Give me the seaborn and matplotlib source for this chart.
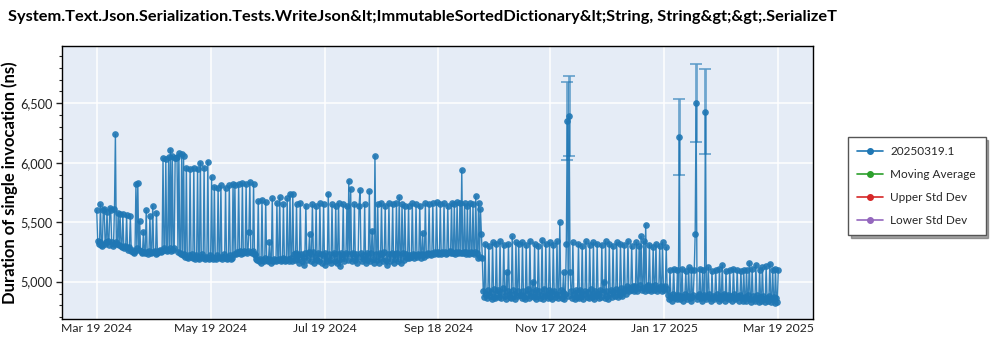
import matplotlib
matplotlib.use("Agg")
import matplotlib.pyplot as plt
import matplotlib.dates as mdates
from matplotlib.lines import Line2D
from matplotlib.ticker import FuncFormatter, MultipleLocator
import pandas as pd
import seaborn as sns

TITLE = ("System.Text.Json.Serialization.Tests.WriteJson&lt;ImmutableSortedDictionary"
         "&lt;String, String&gt;&gt;.SerializeT")
Y_LABEL = "Duration of single invocation (ns)"
SERIES_NAME = "20250319.1"
EXTRA_SERIES = ["Moving Average", "Upper Std Dev", "Lower Std Dev"]

START_DATE = "2024-03-19"
RUN_INTERVAL = "12h"   # two benchmark runs per day

# Durations (ns), one list per month, two runs per day
mar24 = [5600, 5340, 5320, 5330, 5650, 5310, 5300, 5600, 5610, 5320,
         5330, 5590, 5340, 5310, 5620, 5600, 5330, 5300, 5320, 5610,
         6240, 5330, 5320, 5580, 5310, 5570]
apr24 = [5300, 5290, 5570, 5280, 5300, 5290, 5560, 5280, 5270, 5290,
         5550, 5260, 5270, 5250, 5240, 5260, 5820, 5280, 5830, 5270,
         5510, 5260, 5250, 5240, 5420, 5250, 5240, 5600, 5250, 5230,
         5260, 5550, 5240, 5250, 5640, 5250, 5260, 5230, 5580, 5240,
         5250, 5260, 5270, 5250, 5260, 6040, 5280, 5270, 6030, 5260,
         5270, 6050, 5280, 6110, 5260, 6060, 5270, 5280, 6040, 6040]
may24 = [6050, 5250, 6080, 5240, 5230, 6070, 5220, 6060, 5230, 5210,
         5960, 5210, 5200, 5220, 5950, 5210, 5230, 5200, 5960, 5190,
         5220, 5210, 5950, 5200, 5190, 6000, 5210, 5230, 5200, 5960,
         5190, 5210, 5200, 6010, 5190, 5220, 5200, 5880, 5210, 5190,
         5800, 5200, 5190, 5220, 5790, 5210, 5200, 5810, 5190, 5210,
         5230, 5200, 5790, 5190, 5210, 5200, 5810, 5220, 5190, 5200,
         5820, 5230]
jun24 = [5810, 5230, 5250, 5240, 5820, 5260, 5250, 5230, 5830, 5240,
         5260, 5250, 5820, 5240, 5260, 5420, 5840, 5250, 5240, 5260,
         5820, 5230, 5220, 5190, 5180, 5680, 5170, 5190, 5160, 5690,
         5180, 5170, 5200, 5670, 5180, 5170, 5190, 5330, 5180, 5160,
         5700, 5170, 5190, 5180, 5170, 5660, 5180, 5190, 5710, 5170,
         5180, 5200, 5650, 5190, 5170, 5180, 5700, 5190, 5170, 5740]
jul24 = [5200, 5170, 5740, 5230, 5180, 5240, 5650, 5190, 5220, 5160,
         5660, 5230, 5170, 5210, 5140, 5240, 5640, 5180, 5220, 5250,
         5400, 5170, 5230, 5650, 5250, 5160, 5210, 5640, 5180, 5240,
         5170, 5660, 5230, 5160, 5220, 5650, 5140, 5240, 5190, 5170,
         5740, 5230, 5180, 5160, 5650, 5220, 5240, 5170, 5640, 5160,
         5230, 5660, 5180, 5130, 5240, 5200, 5650, 5170, 5220, 5240,
         5640, 5180]
aug24 = [5850, 5230, 5780, 5170, 5220, 5240, 5650, 5180, 5230, 5160,
         5210, 5640, 5770, 5240, 5170, 5220, 5190, 5650, 5160, 5240,
         5180, 5220, 5760, 5170, 5240, 5430, 5190, 5160, 6060, 5230,
         5180, 5650, 5160, 5240, 5200, 5660, 5230, 5170, 5250, 5640,
         5180, 5140, 5230, 5660, 5170, 5220, 5240, 5650, 5160, 5230,
         5190, 5660, 5240, 5170, 5710, 5220, 5160, 5650, 5240, 5180,
         5640, 5230]
sep24 = [5200, 5210, 5640, 5200, 5220, 5210, 5660, 5230, 5200, 5220,
         5650, 5210, 5230, 5220, 5640, 5200, 5230, 5410, 5220, 5210,
         5660, 5230, 5220, 5240, 5650, 5230, 5220, 5240, 5660, 5230,
         5250, 5240, 5670, 5230, 5250, 5240, 5650, 5230, 5250, 5240,
         5660, 5250, 5230, 5240, 5640, 5250, 5260, 5240, 5660, 5250,
         5240, 5650, 5230, 5250, 5670, 5240, 5250, 5660, 5240, 5940]
oct24 = [5240, 5250, 5660, 5230, 5250, 5640, 5240, 5230, 5660, 5250,
         5240, 5650, 5230, 5250, 5720, 5240, 5200, 5660, 5210, 5610,
         5400, 5200, 4920, 4870, 5320, 4900, 4860, 4930, 5300, 4880,
         4910, 4850, 5330, 4940, 4870, 4860, 5320, 4900, 4930, 4870,
         5340, 4860, 4910, 4950, 5310, 4880, 4850, 5080, 4920, 5320,
         4900, 4870, 4860, 5380, 4930, 4900, 4850, 5330, 4880, 4920,
         5320, 4890]
nov24 = [4890, 4860, 5330, 4920, 4870, 4850, 5310, 4900, 4940, 4860,
         5340, 4880, 4910, 5000, 4870, 5320, 4850, 4930, 4880, 5300,
         4920, 4860, 4890, 5350, 4850, 4940, 4880, 5320, 4900, 4860,
         4930, 5330, 4870, 4910, 4850, 5310, 4920, 4870, 4900, 5340,
         4860, 4890, 5500, 4930, 4860, 4910, 5080, 4850, 4900, 5320,
         6350, 4880, 6390, 5080, 4920, 4860, 5330, 4900, 4850, 4930]
dec24 = [4870, 4910, 5320, 4860, 4930, 4880, 5300, 4850, 4900, 4920,
         5340, 4870, 4910, 4860, 5310, 4940, 4870, 4890, 5330, 4850,
         4920, 4880, 5320, 4900, 4860, 4930, 4870, 5310, 4910, 5000,
         4860, 5340, 4920, 4880, 4850, 5320, 4900, 4930, 4870, 5300,
         4910, 4880, 4940, 5330, 4870, 4920, 4890, 5320, 4950, 4880,
         4910, 5310, 4940, 4900, 4960, 5340, 4920, 4950, 4930, 5300,
         4960, 4920]
jan25 = [4940, 4960, 5330, 4920, 4950, 5300, 4970, 5380, 4930, 4950,
         5340, 4920, 5480, 4960, 4930, 4970, 5310, 4940, 4920, 4960,
         5290, 4930, 4970, 5320, 4920, 4950, 4940, 5300, 4960, 4920,
         5330, 4950, 4930, 4960, 5290, 4940, 4890, 4850, 5100, 4870,
         4840, 4900, 5110, 4860, 4880, 4850, 5100, 4890, 6220, 4850,
         4880, 5110, 4840, 4870, 4900, 5090, 4850, 4880, 5120, 4860,
         4840, 5100]
feb25 = [4870, 4890, 5100, 5400, 6500, 4850, 4880, 4900, 5110, 4860,
         4840, 5100, 4890, 4870, 6430, 4850, 4880, 5120, 4900, 4860,
         4840, 5090, 4880, 4850, 4870, 5100, 4900, 4860, 4840, 5110,
         4880, 4850, 5140, 4870, 4900, 4840, 5090, 4860, 4890, 4850,
         5100, 4880, 4840, 4870, 5110, 4900, 4850, 4860, 5100, 4880,
         4840, 4890, 5090, 4860, 4840, 5100]
mar25 = [4870, 4840, 5100, 4860, 4890, 5160, 4850, 4830, 5110, 4880,
         4850, 4840, 5140, 4890, 4860, 4830, 5100, 4870, 4840, 5120,
         4880, 4850, 4830, 5130, 4860, 4840, 4880, 5150, 4830, 4850,
         5100, 4870, 4820, 5110, 4860, 4830, 5100]

# Runs with a wide spread, drawn as error bars (half-width in ns)
err_dates = ["2024-11-26", "2024-11-27", "2025-01-25", "2025-02-03", "2025-02-08"]
err_half = [330, 337, 320, 329, 355]

tick_dates = ["2024-03-19", "2024-05-19", "2024-07-19", "2024-09-18",
              "2024-11-17", "2025-01-17", "2025-03-19"]

values = (mar24 + apr24 + may24 + jun24 + jul24 + aug24 + sep24 + oct24
          + nov24 + dec24 + jan25 + feb25 + mar25)
df = pd.DataFrame({"date": pd.date_range(START_DATE, periods=len(values), freq=RUN_INTERVAL),
                   "duration": values})

sns.set_theme(style="darkgrid")
plt.rcParams["font.family"] = ["Lato", "DejaVu Sans"]

BLUE, GREEN, RED, PURPLE = "#1f77b4", "#2ca02c", "#d62728", "#9467bd"

fig = plt.figure(figsize=(10, 3.5), dpi=100)
ax = fig.add_axes([0.062, 0.0886, 0.751, 0.78])
ax.set_facecolor("#E5ECF6")

sns.lineplot(data=df, x="date", y="duration", ax=ax, color=BLUE, estimator=None,
             marker="o", markersize=4.8, markeredgewidth=0, linewidth=1.0, alpha=0.9,
             legend=False)

err_df = df.set_index("date").loc[pd.to_datetime(err_dates)]
ax.errorbar(err_df.index, err_df["duration"], yerr=err_half, fmt="none",
            ecolor=BLUE, elinewidth=2.0, capsize=4, capthick=1.3, alpha=0.6)

# Axes limits, ticks and grid
x_lo = pd.Timestamp(tick_dates[0]) - pd.Timedelta(days=18.6)
x_hi = pd.Timestamp(tick_dates[-1]) + pd.Timedelta(days=18.6)
ax.set_xlim(x_lo, x_hi)
ax.set_ylim(4686, 6982)
ax.set_xticks(pd.to_datetime(tick_dates))
ax.xaxis.set_major_formatter(mdates.DateFormatter("%b %d %Y"))
ax.yaxis.set_major_locator(MultipleLocator(500))
ax.yaxis.set_minor_locator(MultipleLocator(100))
ax.yaxis.set_major_formatter(FuncFormatter(lambda v, _: f"{v:,.0f}"))
ax.grid(True, which="major", color="white", linewidth=1.1)
ax.grid(False, which="minor")
ax.tick_params(axis="both", which="major", colors="#222222", pad=3)
ax.tick_params(axis="x", which="major", labelsize=8.8, length=0)
ax.tick_params(axis="y", which="major", labelsize=9.2, length=4, width=1, left=True,
               direction="out")
ax.tick_params(axis="y", which="minor", length=2.5, width=0.8, left=True, direction="out")
for side in ax.spines.values():
    side.set_visible(True)
    side.set_color("black")
    side.set_linewidth(1)

ax.set_xlabel("")
ax.set_ylabel(Y_LABEL, fontsize=12, fontweight="bold", color="black")
ax.yaxis.set_label_coords(-0.058, 0.5)

fig.text(0.008, 0.95, TITLE, fontsize=11.8, fontweight="bold", color="black",
         ha="left", va="center")

# Legend outside the plotting area
handles = [Line2D([], [], color=BLUE, marker="o", markersize=4, linewidth=1.2)]
for name, col in zip(EXTRA_SERIES, [GREEN, RED, PURPLE]):
    ax.plot([], [], color=col)
    handles.append(Line2D([], [], color=col, marker="o", markersize=4, linewidth=1.2))
labels = [SERIES_NAME] + EXTRA_SERIES
leg = fig.legend(handles, labels, loc="upper left", bbox_to_anchor=(0.848, 1 - 137 / 350),
                 borderaxespad=0, frameon=True, fancybox=False, shadow=True, fontsize=8.5,
                 handlelength=2.2, labelspacing=1.0, borderpad=0.8, handletextpad=0.6)
leg.get_frame().set_edgecolor("#555555")
leg.get_frame().set_facecolor("white")
leg.get_frame().set_linewidth(1)
leg.get_frame().set_alpha(1)

fig.savefig("out.png", dpi=100, facecolor="white")
